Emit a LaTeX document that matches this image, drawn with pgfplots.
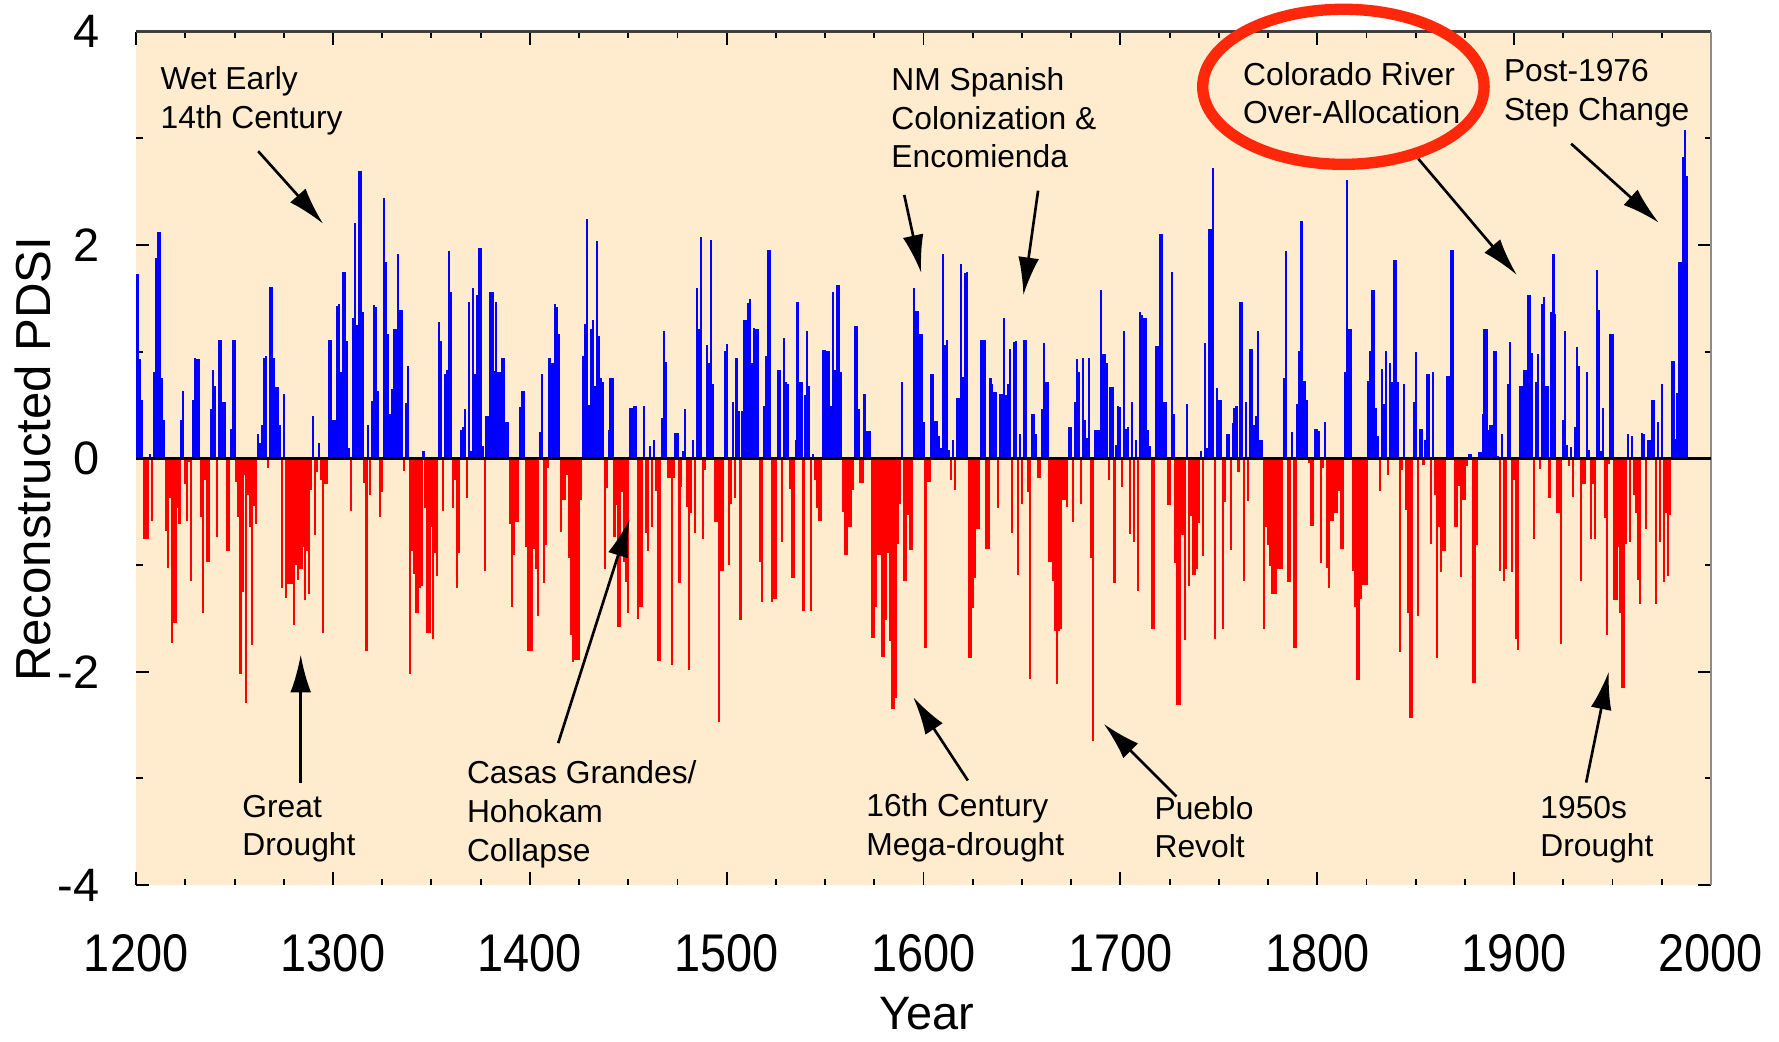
\documentclass[border=0pt]{standalone}
\usepackage{fontspec}
\setmainfont{Liberation Sans}
\usepackage{graphicx}
\usepackage{pgfplots}
\pgfplotsset{compat=1.18}
\usepackage{pgfplotstable}
\usetikzlibrary{arrows.meta}

\definecolor{parchment}{RGB}{255,235,205}
\definecolor{wetblue}{RGB}{0,0,255}
\definecolor{dryred}{RGB}{255,0,0}
\definecolor{circlered}{RGB}{255,40,10}

\newcommand\annfont{\fontsize{8.4}{10.2}\selectfont}
\newcommand\tickfont{\fontsize{12.4}{14}\selectfont}
\newcommand\labelfont{\fontsize{13}{15}\selectfont}
\newcommand\tall[1]{\scalebox{1}[1.13]{#1}}

% Reconstructed PDSI, one value per year, 1200--1988 (ten years per line)
\pgfplotstableread[row sep=\\, header=false]{
1.73\\ 1.73\\ 0.93\\ 0.55\\ -0.76\\ -0.76\\ -0.76\\ 0.04\\ -0.59\\ 0.81\\
1.88\\ 2.12\\ 2.12\\ 0.75\\ 0.36\\ -0.68\\ -1.03\\ -0.37\\ -1.73\\ -1.54\\
-1.54\\ -0.47\\ -0.62\\ 0.36\\ 0.63\\ -0.24\\ -0.59\\ -0.03\\ -1.15\\ 0.55\\
0.94\\ 0.93\\ 0.93\\ -0.55\\ -1.45\\ -0.2\\ -0.97\\ -0.97\\ 0.46\\ 0.83\\
0.68\\ -0.74\\ 1.11\\ 1.11\\ 0.53\\ 0.53\\ -0.87\\ -0.87\\ 0.28\\ 1.11\\
1.11\\ -0.22\\ -0.55\\ -2.02\\ -1.25\\ -0.16\\ -2.29\\ -0.34\\ -0.64\\ -1.75\\
-0.45\\ -0.62\\ 0.23\\ 0.14\\ 0.31\\ 0.94\\ 0.96\\ -0.09\\ 1.61\\ 1.61\\
0.94\\ 0.67\\ 0.67\\ 0.31\\ -1.22\\ 0.6\\ -1.31\\ -1.18\\ -1.18\\ -1.18\\
-1.56\\ -1.0\\ -1.14\\ -1.04\\ -1.04\\ -0.83\\ -1.33\\ -0.87\\ -1.27\\ -0.3\\
0.4\\ -0.72\\ -0.13\\ 0.14\\ -0.2\\ -1.64\\ -0.24\\ -0.24\\ 1.11\\ 1.11\\
0.36\\ 0.36\\ 1.43\\ 1.45\\ 0.81\\ 1.75\\ 1.75\\ 1.1\\ 0.1\\ -0.49\\
1.32\\ 2.21\\ 1.25\\ 2.69\\ 2.69\\ 1.37\\ -0.23\\ -1.81\\ 0.31\\ -0.34\\
0.54\\ 1.44\\ 1.42\\ 0.63\\ -0.55\\ -0.32\\ 2.44\\ 1.84\\ 1.17\\ 0.42\\
0.65\\ 1.21\\ 1.21\\ 1.92\\ 1.39\\ 1.39\\ -0.12\\ 0.52\\ 0.87\\ -2.02\\
-0.87\\ -1.08\\ -1.45\\ -1.45\\ -1.22\\ -1.2\\ 0.07\\ -0.47\\ -1.64\\ -1.64\\
-0.64\\ -1.69\\ -0.89\\ -1.1\\ 1.28\\ 1.1\\ -0.49\\ 0.79\\ 0.83\\ 1.94\\
1.56\\ -0.47\\ -0.2\\ -1.22\\ -0.89\\ 0.27\\ 0.29\\ 0.46\\ -0.37\\ 1.47\\
0.07\\ 1.6\\ 0.79\\ 1.53\\ 1.97\\ 1.97\\ 0.12\\ -1.06\\ 0.4\\ 0.4\\
1.56\\ 1.56\\ 0.82\\ 1.47\\ 0.81\\ 0.81\\ 0.94\\ 0.94\\ 0.34\\ 0.34\\
-0.62\\ -1.39\\ -0.91\\ -0.6\\ -0.6\\ 0.48\\ 0.63\\ 0.63\\ -0.83\\ -1.81\\
-1.81\\ -1.81\\ -0.85\\ -1.04\\ -1.48\\ 0.25\\ 0.79\\ -1.17\\ -0.81\\ -0.09\\
0.94\\ 0.89\\ 0.89\\ 1.45\\ 1.42\\ 1.17\\ -0.69\\ -0.39\\ -0.39\\ -0.16\\
-0.93\\ -1.66\\ -1.91\\ -1.89\\ -1.89\\ -1.89\\ -0.39\\ 0.96\\ 1.26\\ 2.24\\
0.5\\ 1.21\\ 1.3\\ 0.68\\ 2.04\\ 1.15\\ 0.75\\ 0.72\\ -1.04\\ -0.28\\
0.27\\ 0.75\\ 0.75\\ -0.74\\ -0.44\\ -1.58\\ -1.58\\ -0.32\\ -0.97\\ -1.16\\
-1.45\\ 0.47\\ 0.47\\ 0.49\\ 0.49\\ -1.51\\ -1.39\\ -1.39\\ 0.49\\ -0.7\\
-0.87\\ 0.12\\ -0.64\\ 0.17\\ -0.31\\ -1.9\\ -1.9\\ 0.38\\ 1.19\\ 0.9\\
-0.18\\ -0.18\\ -1.94\\ -0.18\\ 0.24\\ 0.24\\ -1.17\\ -0.27\\ 0.07\\ 0.46\\
-0.46\\ -1.98\\ -0.51\\ 0.17\\ -0.7\\ 1.6\\ 1.21\\ 2.08\\ -0.76\\ -0.11\\
1.06\\ 0.89\\ 2.05\\ 0.7\\ -0.6\\ -0.6\\ -2.47\\ -1.06\\ -1.06\\ 1.01\\
1.07\\ -1.0\\ -0.43\\ 0.53\\ -0.37\\ 0.94\\ 0.44\\ -1.52\\ 0.44\\ 1.3\\
1.3\\ 1.46\\ 1.49\\ 0.89\\ 1.22\\ 1.21\\ 1.21\\ -0.97\\ -1.35\\ 0.49\\
0.96\\ 1.95\\ 1.95\\ -1.35\\ -1.32\\ -1.32\\ 0.83\\ 0.83\\ -0.78\\ 1.13\\
0.72\\ 0.7\\ -0.29\\ -1.12\\ -1.12\\ 0.17\\ 1.47\\ 0.72\\ 0.72\\ -1.43\\
0.59\\ 1.19\\ 0.68\\ -1.43\\ 0.04\\ -0.2\\ -0.47\\ -0.59\\ -0.59\\ 1.02\\
1.02\\ 1.01\\ 1.01\\ 0.49\\ 1.56\\ 0.83\\ 1.63\\ 1.63\\ 0.81\\ -0.5\\
-0.91\\ -0.91\\ -0.64\\ -0.64\\ -0.3\\ 1.24\\ 1.24\\ 0.46\\ -0.23\\ -0.23\\
0.6\\ 0.26\\ 0.26\\ 0.26\\ -1.68\\ -1.68\\ -1.39\\ -0.91\\ -0.91\\ -1.86\\
-1.86\\ -1.52\\ -0.89\\ -1.71\\ -2.35\\ -2.35\\ -2.25\\ -0.8\\ -0.43\\ 0.72\\
-1.15\\ -1.15\\ -0.53\\ -0.86\\ -0.86\\ 1.6\\ 1.38\\ 1.38\\ 1.17\\ 1.17\\
0.34\\ -1.78\\ -0.22\\ -0.22\\ 0.79\\ 0.79\\ 0.35\\ 0.35\\ 0.21\\ 0.1\\
1.92\\ 1.06\\ 1.11\\ 0.08\\ -0.2\\ 0.17\\ -0.3\\ 0.57\\ 0.57\\ 1.82\\
0.76\\ 1.74\\ 1.75\\ -1.87\\ -1.87\\ -1.4\\ -1.12\\ -0.66\\ -0.66\\ 1.11\\
1.11\\ 1.11\\ -0.85\\ -0.85\\ 0.75\\ 0.7\\ 0.62\\ 0.62\\ -0.47\\ 0.6\\
0.6\\ 1.32\\ 0.59\\ 0.7\\ 1.03\\ -0.7\\ 1.09\\ 1.1\\ -1.09\\ 0.23\\
-0.43\\ 1.11\\ 1.11\\ -0.32\\ -2.07\\ 0.42\\ 0.42\\ 0.23\\ -0.18\\ -0.18\\
0.46\\ 1.08\\ 0.72\\ 0.72\\ -0.97\\ -0.97\\ -1.15\\ -1.62\\ -2.12\\ -1.62\\
-1.6\\ -0.39\\ -0.39\\ -0.46\\ 0.29\\ 0.29\\ -0.6\\ 0.53\\ 0.93\\ 0.81\\
-0.43\\ 0.94\\ 0.36\\ 0.19\\ 0.94\\ -0.93\\ -2.65\\ 0.27\\ 0.27\\ 0.27\\
1.58\\ 0.98\\ 0.98\\ 0.89\\ -0.2\\ 0.67\\ 0.67\\ -1.17\\ 0.13\\ 0.49\\
0.48\\ -0.27\\ 1.19\\ 0.28\\ 0.29\\ -0.71\\ 0.53\\ -0.78\\ 0.17\\ -1.24\\
1.37\\ 1.34\\ 1.32\\ 1.32\\ 0.27\\ 0.12\\ -1.6\\ -1.6\\ 1.05\\ 1.05\\
2.1\\ 2.1\\ 0.53\\ 0.53\\ -0.44\\ -0.44\\ 1.75\\ 0.42\\ -0.98\\ -2.31\\
-2.31\\ -0.72\\ -0.72\\ -1.7\\ 0.51\\ -1.2\\ -0.54\\ -1.09\\ -1.09\\ -1.04\\
-0.61\\ 0.07\\ -0.92\\ 1.08\\ 0.1\\ 2.15\\ 2.15\\ 2.72\\ -1.69\\ 0.66\\
0.55\\ 0.55\\ -1.6\\ -0.41\\ 0.23\\ 0.23\\ -0.86\\ 0.33\\ 0.47\\ 0.49\\
-0.13\\ 1.47\\ 1.47\\ -1.15\\ 0.53\\ -0.4\\ 1.03\\ 1.03\\ 0.31\\ 0.4\\
1.19\\ 0.17\\ 0.17\\ -1.6\\ -0.64\\ -0.81\\ -1.01\\ -1.27\\ -1.27\\ -1.27\\
-1.04\\ -1.04\\ -1.04\\ 0.75\\ 1.94\\ -1.16\\ -1.16\\ 0.25\\ -1.78\\ -1.78\\
0.51\\ 1.01\\ 2.23\\ 0.73\\ 0.73\\ 0.55\\ -0.04\\ -0.63\\ -0.63\\ 0.28\\
0.28\\ 0.26\\ -0.98\\ -0.09\\ 0.34\\ -1.03\\ -1.22\\ -0.59\\ -0.59\\ -0.51\\
-0.51\\ -0.31\\ -0.85\\ -0.85\\ 0.81\\ 2.61\\ 1.21\\ 1.21\\ -1.06\\ -1.39\\
-2.08\\ -2.08\\ -1.32\\ -1.19\\ -1.19\\ -1.19\\ 0.73\\ 1.01\\ 1.58\\ 1.58\\
0.47\\ 0.21\\ -0.31\\ 0.84\\ 0.51\\ 1.01\\ -0.16\\ 0.89\\ 0.72\\ 1.86\\
1.86\\ 0.72\\ -1.82\\ -0.11\\ 0.7\\ -0.48\\ -1.45\\ -2.43\\ -2.43\\ 0.53\\
1.0\\ -1.48\\ 0.28\\ 0.28\\ -0.06\\ 0.17\\ 0.79\\ 0.79\\ -0.8\\ 0.81\\
-0.34\\ -1.87\\ -0.64\\ -1.07\\ -0.87\\ -0.87\\ 0.77\\ 0.77\\ 1.95\\ 1.95\\
-0.64\\ -0.64\\ -0.26\\ -1.11\\ -0.39\\ -0.39\\ -0.07\\ 0.04\\ 0.04\\ -2.11\\
-2.11\\ -0.81\\ 0.06\\ 0.06\\ 0.42\\ 1.21\\ 1.21\\ 0.27\\ 0.31\\ 0.31\\
1.01\\ 1.01\\ 0.02\\ -1.06\\ 0.23\\ -1.15\\ -1.04\\ 0.7\\ 1.09\\ -1.07\\
-0.2\\ -1.69\\ -1.8\\ 0.68\\ 0.68\\ 0.83\\ 0.83\\ 1.53\\ 1.53\\ 0.99\\
-0.76\\ 0.72\\ 0.98\\ -0.1\\ 1.45\\ 1.51\\ 0.68\\ 0.68\\ -0.37\\ 1.37\\
1.92\\ 1.35\\ -0.51\\ -0.51\\ -1.74\\ 0.36\\ 1.19\\ 0.13\\ -0.07\\ 0.11\\
-0.36\\ 0.29\\ 1.04\\ 0.87\\ -1.15\\ -0.24\\ -0.24\\ 0.81\\ 0.08\\ -0.76\\
-0.24\\ -0.76\\ 1.77\\ 1.39\\ 0.07\\ 0.47\\ -0.56\\ -1.66\\ -0.05\\ 1.17\\
1.17\\ -1.33\\ -1.33\\ -0.83\\ -1.45\\ -2.15\\ -2.15\\ -0.8\\ 0.23\\ -0.78\\
0.21\\ -0.34\\ -0.51\\ -1.14\\ -1.37\\ 0.24\\ 0.23\\ -0.66\\ 0.17\\ 0.17\\
0.55\\ 0.55\\ -1.37\\ 0.34\\ -0.78\\ 0.7\\ -1.16\\ -0.51\\ -1.1\\ -0.53\\
0.91\\ 0.91\\ 0.18\\ 0.61\\ 1.84\\ 1.84\\ 2.83\\ 3.08\\ 2.65\\
}\pdsi

\begin{document}
\begin{tikzpicture}
\begin{axis}[
  scale only axis,
  width=416.4pt, height=225.6pt,
  xmin=1200, xmax=2000, ymin=-4, ymax=4,
  clip mode=individual,
  axis background/.style={fill=parchment},
  axis line style={draw=none},
  xtick={1200,1300,1400,1500,1600,1700,1800,1900,2000},
  xticklabels={\tall{1200},\tall{1300},\tall{1400},\tall{1500},\tall{1600},
               \tall{1700},\tall{1800},\tall{1900},\tall{2000}},
  minor x tick num=3,
  ytick={-4,-2,0,2,4},
  yticklabels={-4,-2,0,2,4},
  minor y tick num=1,
  tick align=inside,
  major tick length=3.4pt, minor tick length=1.7pt,
  tick style={black, line width=0.5pt},
  xticklabel style={anchor=center, yshift=-18pt, font=\tickfont},
  yticklabel style={anchor=east, inner sep=0pt, xshift=-9.5pt, font=\tickfont},
  xlabel={Year},
  xlabel style={at={(axis description cs:0.502,-0.151)}, anchor=center, inner sep=0pt, font=\tickfont},
  ylabel={Reconstructed PDSI},
  ylabel style={at={(axis description cs:-0.0653,0.499)}, anchor=center, font=\labelfont},
]
% wet years
\addplot[ycomb, draw=wetblue, line width=0.56pt, mark=none, restrict y to domain=0:10]
  table[x expr=\coordindex+1200, y index=0] {\pdsi};
% dry years
\addplot[ycomb, draw=dryred, line width=0.56pt, mark=none, restrict y to domain=-10:0]
  table[x expr=\coordindex+1200, y index=0] {\pdsi};

% frame pieces and zero line
\draw[line width=0.9pt, black!75] (rel axis cs:0,1) -- (rel axis cs:1,1);
\draw[line width=0.5pt, black!45] (rel axis cs:1,0) -- (rel axis cs:1,1);
\draw[line width=0.6pt, black] (axis cs:1200,0) -- (axis cs:2000,0);

% annotations
\tikzset{ann/.style={anchor=north west, inner sep=0pt, align=left, font=\annfont},
         pointer/.style={-{Latex[length=10pt,width=5.5pt]}, line width=0.7pt, black}}
\node[ann] at (axis cs:1212.1,3.68) {Wet Early\\14th Century};
\draw[pointer] (axis cs:1262,2.88) -- (axis cs:1295,2.2);

\node[ann] at (axis cs:1253.6,-3.149) {Great\\Drought};
\draw[pointer] (axis cs:1283.6,-3.04) -- (axis cs:1283.6,-1.84);

\node[ann] at (axis cs:1367.7,-2.83) {Casas Grandes/\\Hohokam\\Collapse};
\draw[pointer] (axis cs:1414.4,-2.67) -- (axis cs:1450.7,-0.57);

\node[ann] at (axis cs:1583.3,3.67) {NM Spanish\\Colonization \&\\Encomienda};
\draw[pointer] (axis cs:1590.2,2.47) -- (axis cs:1598.8,1.74);
\draw[pointer] (axis cs:1658.2,2.51) -- (axis cs:1650.7,1.53);

\node[ann] at (axis cs:1762,3.72) {Colorado River\\Over-Allocation};
\draw[pointer] (axis cs:1851.3,2.81) -- (axis cs:1901.4,1.72);

\node[ann] at (axis cs:1894.5,3.745) {Post-1976\\Step Change};
\draw[pointer] (axis cs:1929,2.95) -- (axis cs:1973.5,2.21);

\node[ann] at (axis cs:1570.6,-3.138) {16th Century\\Mega-drought};
\draw[pointer] (axis cs:1622.5,-3.02) -- (axis cs:1594.8,-2.24);

\node[ann] at (axis cs:1717,-3.16) {Pueblo\\Revolt};
\draw[pointer] (axis cs:1728.5,-3.17) -- (axis cs:1691.6,-2.49);

\node[ann] at (axis cs:1913,-3.16) {1950s\\Drought};
\draw[pointer] (axis cs:1936.6,-3.04) -- (axis cs:1948.1,-2.0);

\coordinate (ringcentre) at (axis cs:1813.3,3.484);
\end{axis}
\draw[circlered, line width=3pt] (ringcentre) ellipse [x radius=37.2pt, y radius=20.5pt];
\pgfresetboundingbox
\path[use as bounding box] ([shift={(-36pt,-41.4pt)}]current axis.south west)
  rectangle ([shift={(18pt,8.4pt)}]current axis.north east);
\end{tikzpicture}
\end{document}
